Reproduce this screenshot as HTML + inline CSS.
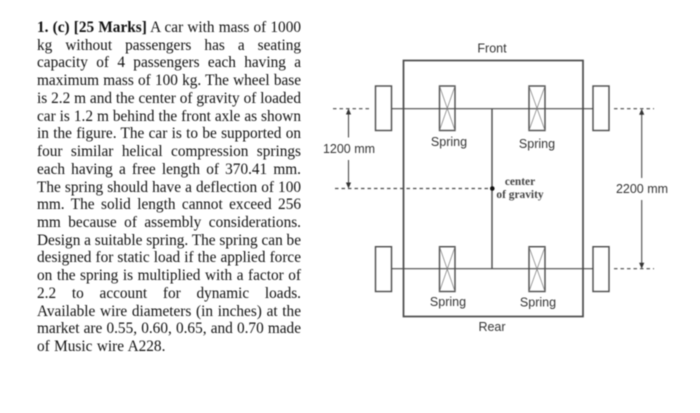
<!DOCTYPE html>
<html>
<head>
<meta charset="utf-8">
<style>
html,body{margin:0;padding:0;background:#fff;}
#p{position:relative;width:700px;height:413px;overflow:hidden;background:#fff;}
.l{position:absolute;left:37px;width:264px;height:18px;line-height:18px;font-family:"Liberation Serif",serif;font-size:15.3px;word-spacing:-1.2px;color:#111;text-align:justify;text-align-last:justify;white-space:normal;filter:blur(.4px);}
.l.e{text-align-last:left;word-spacing:.6px;}
svg{position:absolute;left:0;top:0;filter:blur(.4px);}
</style>
</head>
<body>
<div id="p">
<div class="l" style="top:19px"><b>1. (c) [25 Marks]</b> A car with mass of 1000</div>
<div class="l" style="top:36.7px">kg without passengers has a seating</div>
<div class="l" style="top:54.4px">capacity of 4 passengers each having a</div>
<div class="l" style="top:72.2px">maximum mass of 100 kg. The wheel base</div>
<div class="l" style="top:89.9px">is 2.2 m and the center of gravity of loaded</div>
<div class="l" style="top:107.6px">car is 1.2 m behind the front axle as shown</div>
<div class="l" style="top:125.3px">in the figure. The car is to be supported on</div>
<div class="l" style="top:143px">four similar helical compression springs</div>
<div class="l" style="top:160.8px">each having a free length of 370.41 mm.</div>
<div class="l" style="top:178.5px">The spring should have a deflection of 100</div>
<div class="l" style="top:196.2px">mm. The solid length cannot exceed 256</div>
<div class="l" style="top:213.9px">mm because of assembly considerations.</div>
<div class="l" style="top:231.6px">Design a suitable spring. The spring can be</div>
<div class="l" style="top:249.4px">designed for static load if the applied force</div>
<div class="l" style="top:267.1px">on the spring is multiplied with a factor of</div>
<div class="l" style="top:284.8px">2.2 to account for dynamic loads.</div>
<div class="l" style="top:302.5px">Available wire diameters (in inches) at the</div>
<div class="l" style="top:320.2px">market are 0.55, 0.60, 0.65, and 0.70 made</div>
<div class="l e" style="top:338px">of Music wire A228.</div>

<svg width="700" height="413" viewBox="0 0 700 413">
<g fill="none" stroke="#4a4a4a">
<rect x="403.5" y="60.5" width="179.5" height="256" stroke-width="1.7"/>
<path d="M392 108.7H593M392 268.7H593" stroke-width="1.2"/>
<path d="M492 108.7V268.7" stroke-width="1.4"/>
<g stroke-width="1.4">
<rect x="375.5" y="86" width="16" height="44.5"/>
<rect x="593" y="86" width="16" height="44.5"/>
<rect x="375.5" y="246.7" width="16" height="44.8"/>
<rect x="593" y="246.7" width="16" height="44.8"/>
<rect x="439.5" y="86" width="15.5" height="44.5"/>
<rect x="529" y="86" width="16" height="44.5"/>
<rect x="439.5" y="246.7" width="15.5" height="44.8"/>
<rect x="529" y="246.7" width="16" height="44.8"/>
</g>
<g stroke-width=".7" stroke="#777">
<path d="M439.5 86L455 130.5M455 86L439.5 130.5"/>
<path d="M529 86L545 130.5M545 86L529 130.5"/>
<path d="M439.5 246.7L455 291.5M455 246.7L439.5 291.5"/>
<path d="M529 246.7L545 291.5M545 246.7L529 291.5"/>
</g>
<g stroke-width="1.2" stroke-dasharray="3.5 3">
<path d="M333 108.7H372"/>
<path d="M335 188.5H490"/>
<path d="M614 108.7H654"/>
<path d="M614 268.7H654"/>
</g>
<g stroke-width="1.1">
<path d="M348.5 110V137.5M348.5 160V187"/>
<path d="M641.7 110V178M641.7 200V267"/>
</g>
</g>
<g fill="#333">
<path d="M348.5 108.5l-2.6 6h5.2zM348.5 188.5l-2.6-6h5.2z"/>
<path d="M641.7 108.7l-2.6 6h5.2zM641.7 268.7l-2.6-6h5.2z"/>
<circle cx="492.3" cy="188.5" r="2.3" fill="#111"/>
</g>
<g font-family="'Liberation Sans',sans-serif" font-size="12.5" fill="#333" text-anchor="middle">
<text x="492" y="52.5">Front</text>
<text x="449" y="146">Spring</text>
<text x="537" y="148">Spring</text>
<text x="448" y="306">Spring</text>
<text x="538" y="306.5">Spring</text>
<text x="492" y="331">Rear</text>
<text x="349" y="153">1200 mm</text>
<text x="642" y="193">2200 mm</text>
</g>
<g font-family="'Liberation Serif',serif" font-size="11.4" font-weight="bold" fill="#444" text-anchor="middle">
<text x="520" y="185">center</text>
<text x="520" y="198">of gravity</text>
</g>
</svg>
</div>
</body>
</html>
